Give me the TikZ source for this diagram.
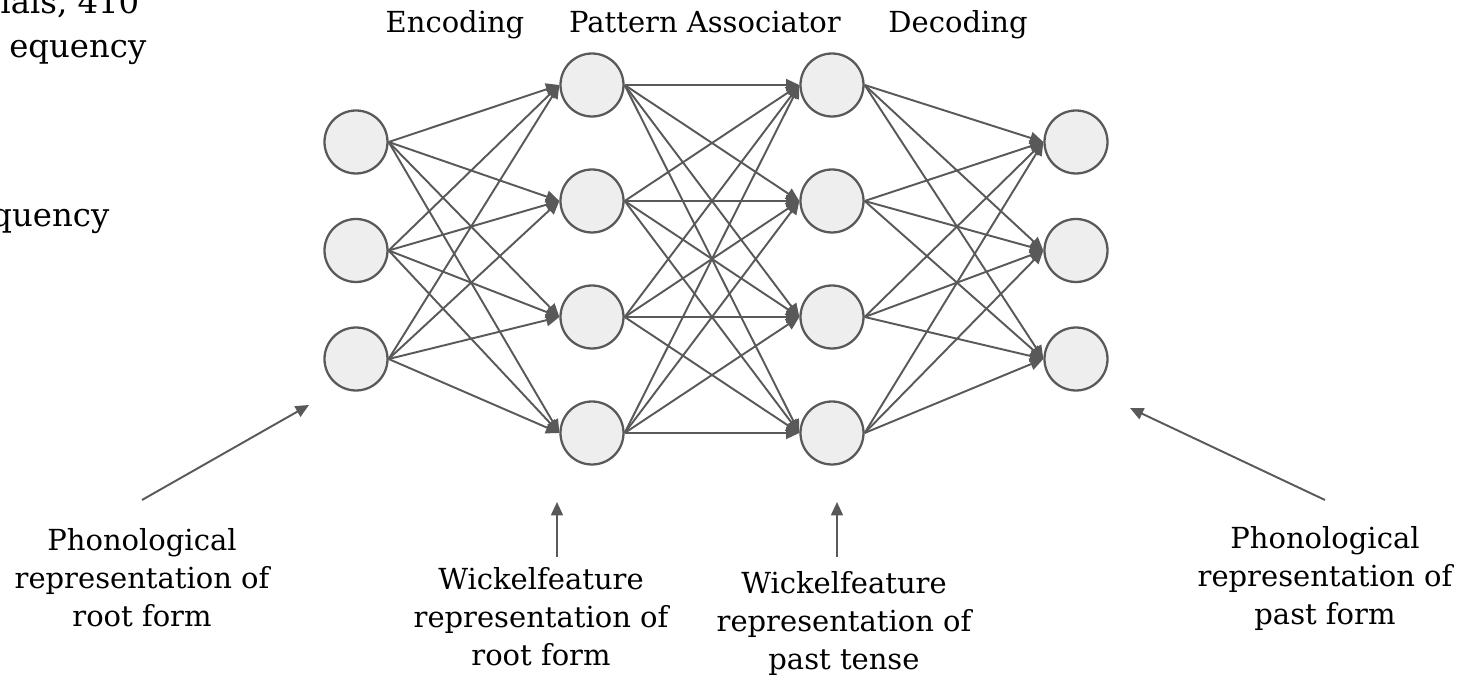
\documentclass[tikz,border=0pt]{standalone}
\usepackage{fontspec}
\setmainfont{DejaVu Serif}
\usetikzlibrary{arrows.meta}
\definecolor{edgegray}{HTML}{595959}
\definecolor{unitfill}{HTML}{EEEEEE}
\tikzset{
  unit/.style={circle,draw=edgegray,fill=unitfill,line width=0.65pt,minimum size=0.63cm,inner sep=0pt},
  conn/.style={draw=edgegray,line width=0.55pt,-{Triangle[length=3.8pt,width=3.4pt]}},
  caption/.style={align=center,inner xsep=0pt,inner ysep=0pt,font=\fontsize{8.25}{10.8}\selectfont},
  fragment/.style={caption,font=\fontsize{9.2}{12}\selectfont},
}
\begin{document}
\begin{tikzpicture}
\clip (0,0) rectangle (14.68,6.75);
\foreach \n/\y in {1/5.33,2/4.245,3/3.16}
{
\node[unit] (i\n) at (3.56,\y) {};
\node[unit] (o\n) at (10.76,\y) {};
}
\foreach \n/\y in {1/5.90,2/4.74,3/3.58,4/2.42}
{
\node[unit] (e\n) at (5.92,\y) {};
\node[unit] (p\n) at (8.32,\y) {};
}
\foreach \a in {1,2,3}
\foreach \b in {1,...,4}
{
\draw[conn] (i\a.east) -- (e\b.west);
\draw[conn] (p\b.east) -- (o\a.west);
}
\foreach \a in {1,...,4}
\foreach \b in {1,...,4}
{
\draw[conn] (e\a.east) -- (p\b.west);
}
\node[caption,anchor=base] (enc) at (4.55,6.42) {Encoding};
\node[caption,anchor=base] (assoc) at (7.05,6.42) {Pattern Associator};
\node[caption,anchor=base] (dec) at (9.58,6.42) {Decoding};
\node[fragment,anchor=base east] (frag1) at (1.40,6.61) {ials, 410};
\node[fragment,anchor=base east] (frag2) at (1.47,6.17) {equency};
\node[fragment,anchor=base east] (frag3) at (1.10,4.48) {quency};
\coordinate (tipA) at (3.09,2.70);
\coordinate (tipB) at (5.57,1.73);
\coordinate (tipC) at (8.37,1.73);
\coordinate (tipD) at (11.30,2.67);
\node[caption,anchor=north,inner ysep=0.28cm] (phonA) at (1.42,1.75) {Phonological\\representation of\\root form};
\node[caption,anchor=north,inner ysep=0.10cm] (wickA) at (5.41,1.18) {Wickelfeature\\representation of\\root form};
\node[caption,anchor=north,inner ysep=0.14cm] (wickB) at (8.44,1.18) {Wickelfeature\\representation of\\past tense};
\node[caption,anchor=north,inner ysep=0.26cm] (phonB) at (13.25,1.75) {Phonological\\representation of\\past form};
\draw[conn] (phonA.north) -- (tipA);
\draw[conn] (wickA.north -| tipB) -- (tipB);
\draw[conn] (wickB.north -| tipC) -- (tipC);
\draw[conn] (phonB.north) -- (tipD);
\end{tikzpicture}
\end{document}
